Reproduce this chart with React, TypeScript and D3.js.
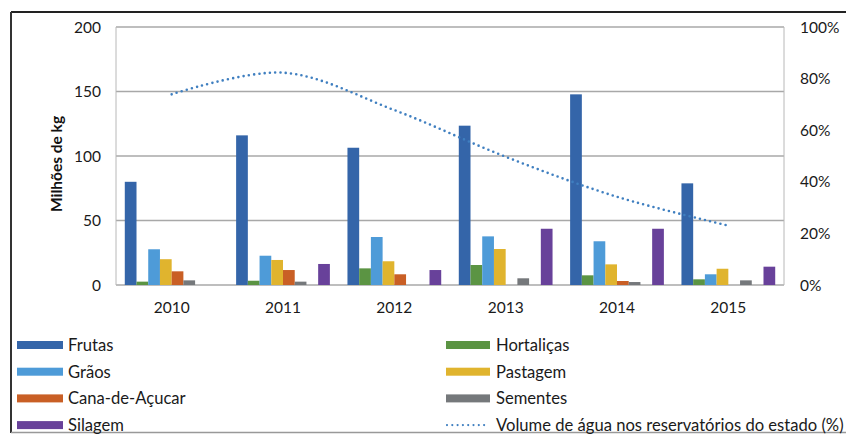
import React from 'react';
import * as d3 from 'd3';

const years = ['2010', '2011', '2012', '2013', '2014', '2015'];
const frutas = [80, 116, 106.4, 123.5, 147.8, 78.8];
const hortalicas = [2.6, 3.3, 12.9, 15.5, 7.5, 4.4];
const graos = [27.7, 22.7, 37.2, 37.7, 33.9, 8.3];
const pastagem = [20, 19.4, 18.4, 27.9, 16, 12.6];
const cana = [10.6, 11.6, 8.3, 0, 3.1, 0];
const sementes = [3.6, 2.6, 0, 5.2, 2.3, 3.6];
const silagem = [0, 16.3, 11.6, 43.6, 43.6, 14.2];
const volume = [73.9, 82.3, 67.8, 49.7, 34.2, 23];
const leftTicks = [0, 50, 100, 150, 200];
const rightTicks = [0, 20, 40, 60, 80, 100];

const seriesNames = ['Frutas', 'Hortaliças', 'Grãos', 'Pastagem', 'Cana-de-Açucar', 'Sementes', 'Silagem'];
const seriesValues = [frutas, hortalicas, graos, pastagem, cana, sementes, silagem];
const seriesColors = ['#3465a9', '#5b9443', '#4e9bd8', '#e0b42e', '#c95f25', '#75787b', '#68419a'];
const seriesSlots = [0, 1, 2, 3, 4, 5, 7];
const lineName = 'Volume de água nos reservatórios do estado (%)';
const lineColor = '#3f7fc0';

const W = 846;
const H = 435;
const FONT = 'Lato, "Open Sans", sans-serif';

export default function App() {
  const left = 116, right = 784, top = 27, bottom = 285;
  const x = d3.scaleBand<string>().domain(years).range([left, right]).paddingInner(0).paddingOuter(0);
  const yL = d3.scaleLinear().domain([0, 200]).range([bottom, top]);
  const yR = d3.scaleLinear().domain([0, 100]).range([bottom, top]);
  // Excel gap width ~150%: group width = 8 bar slots, gap = 1.5 bars
  const bw = x.bandwidth() / 9.5;
  const groupOffset = bw * 0.75;

  const line = d3
    .line<number>()
    .x((_, i) => (x(years[i]) as number) + x.bandwidth() / 2)
    .y((d) => yR(d))
    .curve(d3.curveCatmullRom.alpha(0.5));

  const legendRows = [
    [0, 1],
    [2, 3],
    [4, 5],
    [6, -1],
  ];
  const legendY0 = 345;
  const legendDy = 26.7;
  const LFS = 16.6;

  return (
    <svg width={W} height={H} style={{ position: 'absolute', left: 0, top: 0, display: 'block' }} fontFamily={FONT}>
      <rect x={0} y={0} width={W} height={H} fill="#ffffff" />
      {/* frame */}
      <line x1={11} x2={W} y1={12} y2={12} stroke="#222" strokeWidth={2} />
      <line x1={11} x2={11} y1={12} y2={433} stroke="#333" strokeWidth={2} />
      <line x1={11} x2={W} y1={432.5} y2={432.5} stroke="#999" strokeWidth={1.5} />

      {/* gridlines */}
      {leftTicks.map((t) => (
        <line key={'g' + t} x1={left} x2={right} y1={yL(t)} y2={yL(t)} stroke="#a8a8a8" strokeWidth={1.3} />
      ))}
      <line x1={left} x2={left} y1={top} y2={bottom} stroke="#b8b8b8" strokeWidth={1} />
      <line x1={right} x2={right} y1={top} y2={bottom} stroke="#b8b8b8" strokeWidth={1} />

      {/* bars */}
      {seriesValues.map((vals, s) =>
        vals.map((v, i) =>
          v > 0 ? (
            <rect
              key={`b${s}-${i}`}
              x={(x(years[i]) as number) + groupOffset + seriesSlots[s] * bw}
              y={yL(v)}
              width={bw}
              height={bottom - yL(v)}
              fill={seriesColors[s]}
            />
          ) : null
        )
      )}

      {/* line */}
      <path d={line(volume) || ''} fill="none" stroke={lineColor} strokeWidth={2.6} strokeDasharray="0 5.3" strokeLinecap="round" />

      {/* left ticks */}
      {leftTicks.map((t) => (
        <text key={'l' + t} x={101} y={yL(t)} dy="0.36em" textAnchor="end" fontSize={15.5} fill="#1a1a1a">
          {t}
        </text>
      ))}
      {/* right ticks */}
      {rightTicks.map((t) => (
        <text key={'r' + t} x={800} y={yR(t)} dy="0.36em" textAnchor="start" fontSize={15.5} fill="#1a1a1a">
          {t + '%'}
        </text>
      ))}
      {/* x labels */}
      {years.map((yv) => (
        <text key={'x' + yv} x={(x(yv) as number) + x.bandwidth() / 2} y={313} textAnchor="middle" fontSize={15.5} fill="#1a1a1a">
          {yv}
        </text>
      ))}
      {/* axis title */}
      <text transform={`translate(62,164) rotate(-90)`} textAnchor="middle" fontSize={15.5} fontWeight="bold" fill="#111">
        Milhões de kg
      </text>

      {/* legend */}
      {legendRows.map((row, r) =>
        row.map((s, c) => {
          const cy = legendY0 + r * legendDy;
          const sx = c === 0 ? 17 : 446;
          const tx = c === 0 ? 68 : 496;
          if (s >= 0) {
            return (
              <g key={`lg${r}-${c}`}>
                <rect x={sx} y={cy - 4} width={c === 0 ? 46 : 44} height={8} fill={seriesColors[s]} />
                <text x={tx} y={cy} dy="0.36em" fontSize={LFS} fill="#1a1a1a">
                  {seriesNames[s]}
                </text>
              </g>
            );
          }
          return (
            <g key={`lg${r}-${c}`}>
              <line x1={sx + 1} x2={sx + 43} y1={cy} y2={cy} stroke={lineColor} strokeWidth={2.2} strokeDasharray="0 5.3" strokeLinecap="round" />
              <text x={tx} y={cy} dy="0.36em" fontSize={LFS} fill="#1a1a1a">
                {lineName}
              </text>
            </g>
          );
        })
      )}
    </svg>
  );
}
